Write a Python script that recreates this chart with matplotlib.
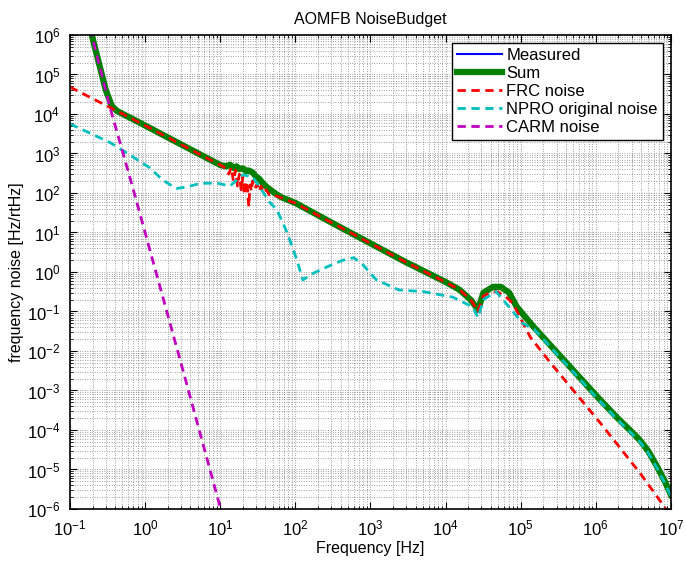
import matplotlib
matplotlib.use('Agg')
import matplotlib.pyplot as plt
from matplotlib.ticker import LogLocator, NullFormatter
import numpy as np

plt.rcParams['font.family'] = ['Liberation Sans', 'DejaVu Sans']
plt.rcParams['mathtext.fontset'] = 'custom'
plt.rcParams['mathtext.rm'] = 'Liberation Sans'

# Sum (green) - Measured sits underneath it
sum_f = [0.15, 0.195, 0.3, 0.36, 0.42, 1, 3, 10, 12, 13.5, 15, 16.5, 18, 20, 22, 24, 27, 30,
         33, 37, 42, 48, 55, 65, 100, 300, 1e3, 3e3, 1e4, 1.55e4, 2.2e4, 2.7e4, 3.2e4, 4.3e4,
         5.4e4, 7e4, 8.9e4, 1.5e5, 2e5, 1.05e6, 1.9e6, 3e6, 3.9e6, 5e6, 6.6e6, 8.3e6, 1e7]
sum_v = [7e6, 1e6, 4e4, 1.6e4, 1.2e4, 5100, 1700, 510, 470, 520, 430, 470, 400, 420, 360, 370,
         330, 260, 230, 175, 140, 115, 95, 78, 56, 18, 5.3, 1.75, 0.56, 0.35, 0.19, 0.11, 0.3,
         0.42, 0.42, 0.3, 0.13, 0.04, 0.022, 6.9e-4, 2.1e-4, 9e-5, 5.4e-5, 2.9e-5, 1.15e-5,
         5e-6, 2.3e-6]
meas_f = sum_f
meas_v = sum_v

# FRC noise (red)
frc_f = [0.1, 0.37, 1, 3, 10, 12, 13, 14, 15, 16, 17, 18, 19, 20, 21, 22, 23, 24, 25, 26, 27,
         29, 31, 33, 35, 38, 41, 45, 50, 55, 60, 100, 300, 1e3, 3e3, 1e4, 1.55e4, 2.2e4, 2.7e4,
         3.2e4, 4.3e4, 5e4, 6.6e4, 7.9e4, 1.35e5, 2.5e5, 1.15e6, 3.9e6, 8.3e6, 1e7]
frc_v = [4.8e4, 1.35e4, 5100, 1700, 510, 420, 300, 440, 200, 380, 150, 300, 120, 250, 90, 200,
         140, 45, 160, 110, 200, 130, 170, 110, 150, 100, 120, 90, 95, 85, 80, 55, 18, 5.3,
         1.75, 0.55, 0.35, 0.19, 0.1, 0.25, 0.32, 0.31, 0.22, 0.16, 0.022, 5e-3, 1.5e-4,
         8e-6, 1.1e-6, 4e-7]

# NPRO original noise (cyan)
npro_f = [0.1, 0.34, 0.69, 1.16, 1.7, 2.6, 3.5, 5.4, 9, 13.5, 20, 27, 33, 45, 57, 78, 105,
          126, 174, 300, 436, 600, 800, 1.2e3, 2.4e3, 5e3, 1.25e4, 2.3e4, 2.7e4, 3.2e4,
          4.7e4, 1.07e5, 1.5e5, 2e5, 1.05e6, 1.9e6, 3e6, 3.9e6, 5e6, 6.6e6, 8.3e6, 1e7]
npro_v = [5.6e3, 1.9e3, 820, 430, 215, 130, 140, 175, 178, 150, 290, 250, 150, 60, 37, 9.8,
          2.0, 0.63, 0.93, 1.5, 2.0, 2.3, 1.5, 0.63, 0.35, 0.32, 0.23, 0.13, 0.07, 0.2, 0.32,
          0.05, 0.036, 0.02, 6.3e-4, 1.9e-4, 8.2e-5, 4.9e-5, 2.6e-5, 1.05e-5, 4.5e-6, 2.1e-6]

# CARM noise (magenta)
carm_f = [0.15, 0.195, 0.34, 0.66, 1.5, 3.0, 9.4, 10.5]
carm_v = [7e6, 1e6, 1.5e4, 176, 0.6, 5e-3, 1.7e-6, 8e-7]

fig = plt.figure(figsize=(6.86, 5.61), dpi=100)
ax = fig.add_axes([0.102, 0.0927, 0.876, 0.845])

ax.loglog(meas_f, meas_v, color='b', lw=1.5, label='Measured')
ax.loglog(sum_f, sum_v, color=(0, 0.5, 0), lw=4.5, label='Sum')
ax.loglog(frc_f, frc_v, color='r', lw=2, dashes=(3, 2), label='FRC noise')
ax.loglog(npro_f, npro_v, color=(0, 0.75, 0.75), lw=2, dashes=(3, 2), label='NPRO original noise')
ax.loglog(carm_f, carm_v, color=(0.75, 0, 0.75), lw=2, dashes=(3, 2), label='CARM noise')

ax.set_xlim(1e-1, 1e7)
ax.set_ylim(1e-6, 1e6)
ax.set_xticks([10.0 ** k for k in range(-1, 8)])
ax.set_yticks([10.0 ** k for k in range(-6, 7)])
ax.xaxis.set_minor_locator(LogLocator(base=10, subs=np.arange(2, 10), numticks=100))
ax.yaxis.set_minor_locator(LogLocator(base=10, subs=np.arange(2, 10), numticks=100))
ax.xaxis.set_minor_formatter(NullFormatter())
ax.yaxis.set_minor_formatter(NullFormatter())

ax.grid(True, which='both', linestyle=(0, (1, 2.5)), color='0.3', linewidth=0.5)
ax.tick_params(which='both', direction='in', top=True, right=True, labelsize=12)
ax.tick_params(which='major', length=5, pad=7)
ax.tick_params(which='minor', length=2.5)
for s in ax.spines.values():
    s.set_linewidth(1.2)

ax.set_xlabel('Frequency [Hz]', fontsize=11.5, labelpad=2)
ax.set_ylabel('frequency noise [Hz/rtHz]', fontsize=11.5, labelpad=2)
ax.set_title('AOMFB NoiseBudget', fontsize=11.5, pad=8)

leg = ax.legend(loc='upper right', fontsize=12, handlelength=2.7, handletextpad=0.25,
                labelspacing=0.18, borderaxespad=0.5, fancybox=False, framealpha=1,
                borderpad=0.3)
leg.get_frame().set_edgecolor('k')
leg.get_frame().set_linewidth(1.0)

fig.savefig('out.png', dpi=100)
